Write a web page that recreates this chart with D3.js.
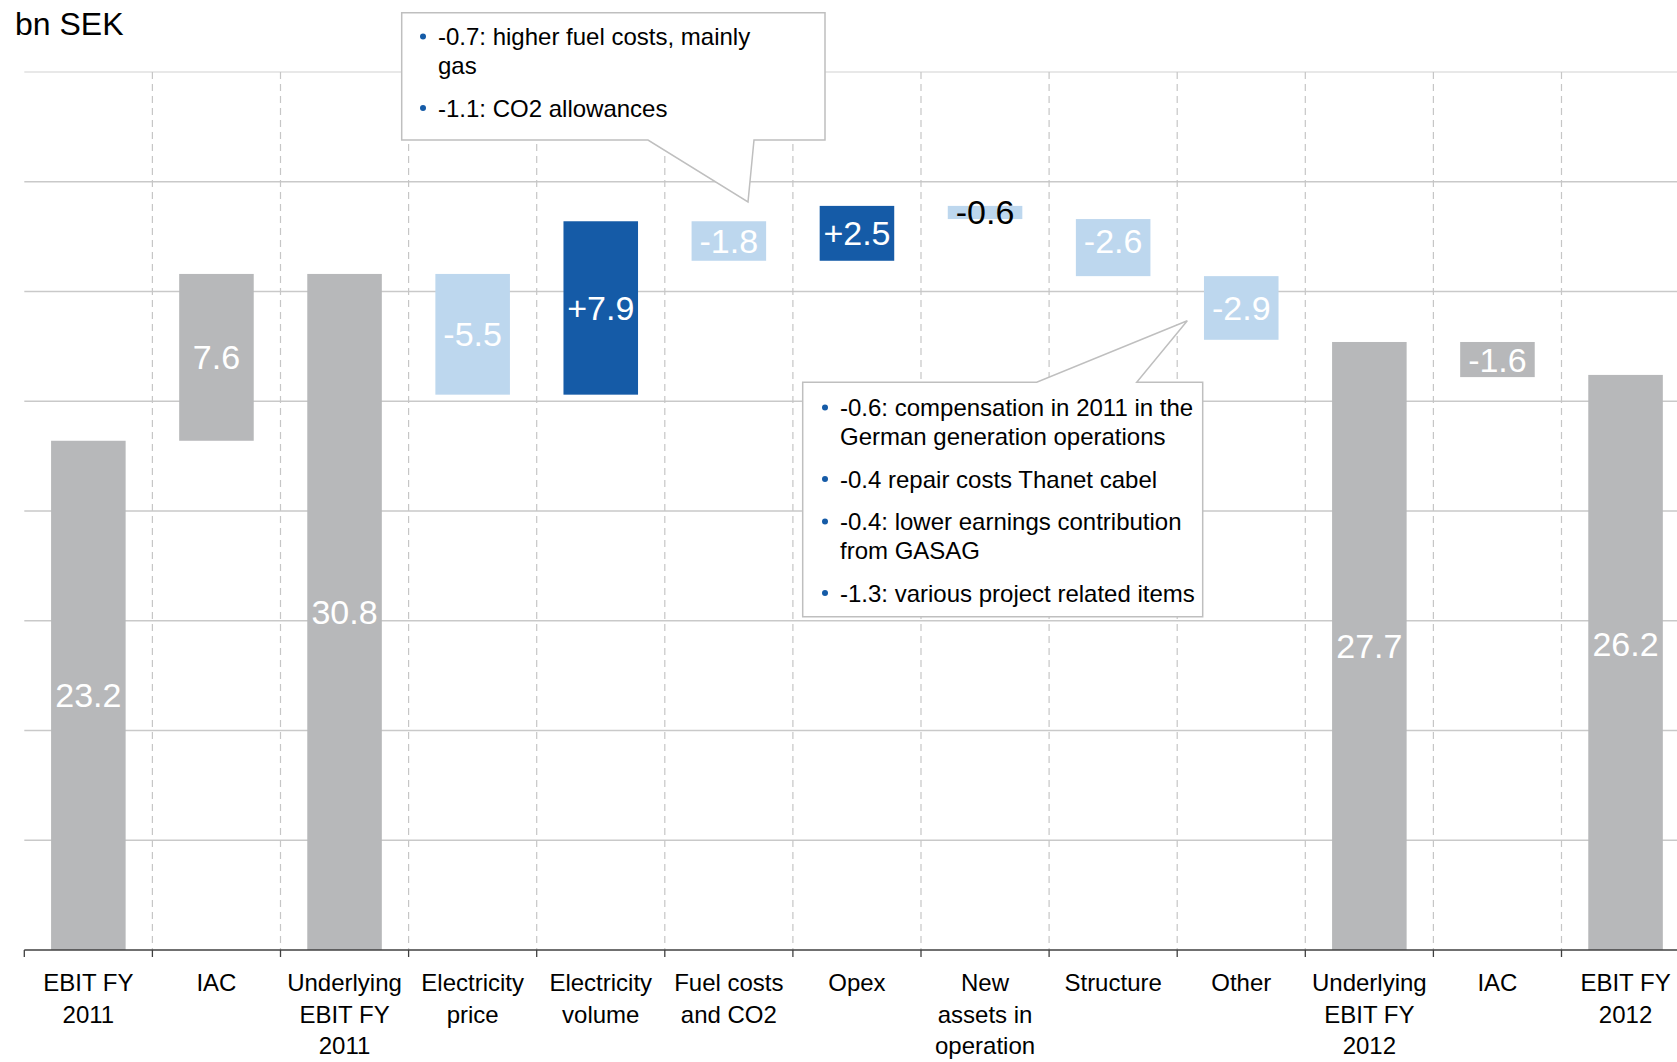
<!DOCTYPE html>
<html>
<head>
<meta charset="utf-8">
<script src="https://cdn.jsdelivr.net/npm/d3@7"></script>
<style>
  html, body { margin: 0; padding: 0; background: #ffffff; overflow: hidden; }
  svg { display: block; font-family: "Liberation Sans", Arial, Helvetica, sans-serif; }
</style>
</head>
<body>
<svg id="chart" width="1677" height="1062"></svg>
<script>
// EBIT bridge FY 2011 -> FY 2012, bn SEK
const categories = [
  "EBIT FY 2011", "IAC 2011", "Underlying EBIT FY 2011", "Electricity price",
  "Electricity volume", "Fuel costs and CO2", "Opex", "New assets in operation",
  "Structure", "Other", "Underlying EBIT FY 2012", "IAC 2012", "EBIT FY 2012"
];
const tickLabels = [
  ["EBIT FY", "2011"], ["IAC"], ["Underlying", "EBIT FY", "2011"], ["Electricity", "price"],
  ["Electricity", "volume"], ["Fuel costs", "and CO2"], ["Opex"], ["New", "assets in", "operation"],
  ["Structure"], ["Other"], ["Underlying", "EBIT FY", "2012"], ["IAC"], ["EBIT FY", "2012"]
];
const values = [23.2, 7.6, 30.8, -5.5, 7.9, -1.8, 2.5, -0.6, -2.6, -2.9, 27.7, -1.6, 26.2];
// total = bar from zero, iac = items affecting comparability, delta = operating change
const kinds = ["total", "iac", "total", "delta", "delta", "delta", "delta", "delta", "delta", "delta", "total", "iac", "total"];
const gridTicks = [0, 5, 10, 15, 20, 25, 30, 35, 40];

const fuelNotes = [
  ["-0.7: higher fuel costs, mainly", "gas"],
  ["-1.1: CO2 allowances"]
];
const otherNotes = [
  ["-0.6: compensation in 2011 in the", "German generation operations"],
  ["-0.4 repair costs Thanet cabel"],
  ["-0.4: lower earnings contribution", "from GASAG"],
  ["-1.3: various project related items"]
];

const colors = { total: "#b7b8ba", pos: "#155ba7", neg: "#bdd7ee" };
// small vertical shifts (px) for a few value labels
const labelNudge = { "Structure": -6.5, "EBIT FY 2012": -18 };

const svg = d3.select("#chart");
const left = 24.3, step = 128.1;
const x = d3.scaleBand().domain(categories).range([left, left + step * categories.length]).padding(0);
const y = d3.scaleLinear().domain([0, 40]).range([950, 72]);
const barW = x.bandwidth() * 0.582;

const locale = d3.formatLocale({ decimal: ".", thousands: ",", grouping: [3], currency: ["", ""], minus: "-" });
const fmtPlain = locale.format(".1f");
const fmtSigned = locale.format("+.1f");

// running waterfall positions
let running = 0;
const bars = categories.map((c, i) => {
  const v = values[i], k = kinds[i];
  let start, end;
  if (k === "total") { start = 0; end = v; }
  else { start = running; end = running + v; }
  running = end;
  const fill = k === "delta" ? (v >= 0 ? colors.pos : colors.neg) : colors.total;
  const label = k === "delta" ? fmtSigned(v) : fmtPlain(v);
  return { c, v, k, lo: Math.min(start, end), hi: Math.max(start, end), fill, label };
});

// horizontal gridlines
const grid = svg.append("g").attr("class", "grid");
grid.selectAll("line").data(gridTicks.filter(t => t > 0)).join("line")
  .attr("x1", left).attr("x2", 1677)
  .attr("y1", d => y(d)).attr("y2", d => y(d))
  .attr("stroke", d => d === 40 ? "#e8e8e8" : "#c9c9c9")
  .attr("stroke-width", d => d === 40 ? 2 : 1.6);

// dashed category separators
svg.append("g").selectAll("line").data(categories.slice(1)).join("line")
  .attr("x1", d => x(d)).attr("x2", d => x(d))
  .attr("y1", y(40)).attr("y2", y(0))
  .attr("stroke", "#c6c6c6").attr("stroke-width", 1.2)
  .attr("stroke-dasharray", "7,5");

// bars
svg.append("g").selectAll("rect").data(bars).join("rect")
  .attr("x", d => x(d.c) + (x.bandwidth() - barW) / 2)
  .attr("width", barW)
  .attr("y", d => y(d.hi))
  .attr("height", d => y(d.lo) - y(d.hi))
  .attr("fill", d => d.fill);

// value labels
svg.append("g").selectAll("text").data(bars).join("text")
  .attr("x", d => x(d.c) + x.bandwidth() / 2)
  .attr("y", d => (y(d.lo) + y(d.hi)) / 2 + 12 + (labelNudge[d.c] || 0))
  .attr("text-anchor", "middle")
  .attr("font-size", 34)
  .attr("fill", d => (y(d.lo) - y(d.hi)) < 20 ? "#000000" : "#ffffff")
  .text(d => d.label);

// x axis line with boundary ticks
const axis = svg.append("g");
axis.append("line").attr("x1", left).attr("x2", 1677).attr("y1", y(0)).attr("y2", y(0))
  .attr("stroke", "#404040").attr("stroke-width", 1.5);
axis.selectAll("line.tick").data(categories).join("line").attr("class", "tick")
  .attr("x1", d => x(d)).attr("x2", d => x(d))
  .attr("y1", y(0)).attr("y2", y(0) + 7)
  .attr("stroke", "#404040").attr("stroke-width", 1.3);

const labels = svg.append("g").selectAll("text").data(categories).join("text")
  .attr("x", d => x(d) + x.bandwidth() / 2)
  .attr("y", 991)
  .attr("text-anchor", "middle")
  .attr("font-size", 24)
  .attr("fill", "#000");
labels.each(function(d, i) {
  d3.select(this).selectAll("tspan").data(tickLabels[i]).join("tspan")
    .attr("x", x(d) + x.bandwidth() / 2)
    .attr("dy", (t, j) => j === 0 ? 0 : 31.5)
    .text(t => t);
});

// unit title
svg.append("text").attr("x", 15).attr("y", 35).attr("font-size", 32).attr("fill", "#000").text("bn SEK");

// callout boxes
function callout(pathD, notes, textX, firstBaseline) {
  const g = svg.append("g");
  g.append("path").attr("d", pathD).attr("fill", "#ffffff").attr("stroke", "#bfbfbf").attr("stroke-width", 1.5);
  let yPos = firstBaseline;
  notes.forEach((lines, n) => {
    if (n > 0) yPos += 42.5;
    g.append("circle").attr("cx", textX - 15).attr("cy", yPos - 8.5).attr("r", 3).attr("fill", "#155ba7");
    lines.forEach((line, j) => {
      if (j > 0) yPos += 29;
      g.append("text").attr("x", textX).attr("y", yPos).attr("font-size", 24).attr("fill", "#000").text(line);
    });
  });
}

callout("M401.7,12.7 H825 V140 H754 L748,202 L648,140 H401.7 Z", fuelNotes, 438, 45);
callout("M802.7,382.3 H1036.7 L1187.3,320.7 L1136.7,382.3 H1202.7 V616.7 H802.7 Z", otherNotes, 840, 416);
</script>
</body>
</html>
